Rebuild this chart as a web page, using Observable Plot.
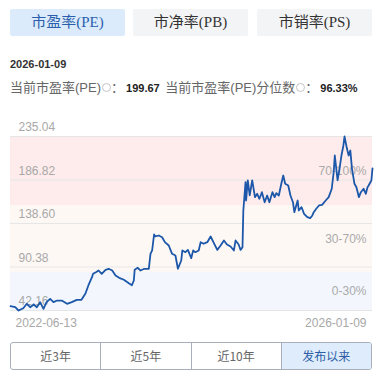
<!DOCTYPE html>
<html>
<head>
<meta charset="utf-8">
<script src="https://cdn.jsdelivr.net/npm/d3@7"></script>
<script src="https://cdn.jsdelivr.net/npm/@observablehq/plot@0.6"></script>
<style>
  html, body { margin: 0; padding: 0; background: #fff; width: 383px; height: 389px; overflow: hidden; }
  body { position: relative; font-family: "Liberation Sans", Arial, "Noto Sans CJK SC", sans-serif; }
  .tab { position: absolute; top: 9px; width: 115px; height: 27px; line-height: 27px; text-align: center;
         font-family: "Liberation Serif", "Noto Sans CJK SC", serif; font-size: 15px; border-radius: 2px; }
  .t1 { left: 10px; background: #dcebfb; color: #2b5fae; }
  .t2 { left: 133px; background: #f3f4f6; color: #333; }
  .t3 { left: 257px; background: #f3f4f6; color: #333; }
  #date { position: absolute; left: 10px; top: 57px; font-size: 11px; font-weight: bold; color: #333; line-height: 14px; }
  #info { position: absolute; left: 10px; top: 79px; font-size: 13px; color: #666; line-height: 18px; white-space: nowrap;
          font-family: "Liberation Sans", Arial, "Noto Sans CJK SC", sans-serif; }
  #info b { color: #222; font-weight: bold; font-size: 11px; margin: 0 2px 0 2px; }
  .ic { display: inline-block; width: 9px; height: 9px; border: 1px solid #c4c4c4; border-radius: 50%; box-sizing: border-box;
        vertical-align: 0px; margin-left: 1px; }
  #chart { position: absolute; left: 0; top: 115px; }
  #btns { position: absolute; left: 10px; top: 342px; width: 362px; height: 28px; border: 1px solid #a9afba; border-radius: 3px;
          box-sizing: border-box; display: flex; overflow: hidden; }
  #btns div { flex: 1; text-align: center; line-height: 26px; font-size: 12px; color: #666; border-left: 1px solid #a9afba;
              font-family: "Noto Sans CJK SC", sans-serif; }
  #btns div:first-child { border-left: none; }
  #btns div.on { background: #deecfc; color: #2d5ea6; }
</style>
</head>
<body>
<div class="tab t1">市盈率(PE)</div>
<div class="tab t2">市净率(PB)</div>
<div class="tab t3">市销率(PS)</div>
<div id="date">2026-01-09</div>
<div id="info">当前市盈率(PE)<span class="ic"></span>：<b>199.67</b>&nbsp;当前市盈率(PE)分位数<span class="ic"></span>：<b>96.33%</b></div>
<div id="chart"></div>
<div id="btns"><div>近3年</div><div>近5年</div><div>近10年</div><div class="on">发布以来</div></div>
<script>
const dates = [
"2022-06-13","2022-06-30","2022-07-12","2022-07-29","2022-08-11","2022-08-23","2022-09-05","2022-09-16","2022-09-28","2022-10-10",
"2022-10-21","2022-11-03","2022-11-15","2022-11-28","2022-12-15","2023-01-03","2023-01-20","2023-02-07","2023-02-24","2023-03-10",
"2023-03-21","2023-04-03","2023-04-07","2023-04-17","2023-04-27","2023-05-08","2023-05-22","2023-06-02","2023-06-15","2023-06-27",
"2023-07-10","2023-07-27","2023-08-14","2023-08-25","2023-09-01","2023-09-04","2023-09-15","2023-09-25","2023-10-09","2023-10-25",
"2023-10-31","2023-11-06","2023-11-13","2023-11-17","2023-11-30","2023-12-12","2023-12-22","2024-01-05","2024-01-17","2024-01-29",
"2024-02-07","2024-02-19","2024-02-23","2024-03-05","2024-03-14","2024-03-26","2024-04-02","2024-04-10","2024-04-22","2024-04-29",
"2024-05-10","2024-05-23","2024-06-04","2024-06-14","2024-06-28","2024-07-10","2024-07-22","2024-08-02","2024-08-15","2024-08-27",
"2024-09-02","2024-09-13","2024-09-20","2024-09-27","2024-09-30","2024-10-08","2024-10-10","2024-10-16","2024-10-23","2024-11-01",
"2024-11-11","2024-11-19","2024-11-27","2024-12-06","2024-12-16","2024-12-25","2025-01-02","2025-01-13","2025-01-21","2025-01-27",
"2025-02-05","2025-02-14","2025-02-21","2025-02-28","2025-03-11","2025-03-19","2025-03-28","2025-04-02","2025-04-07","2025-04-14",
"2025-04-18","2025-04-28","2025-05-07","2025-05-19","2025-05-29","2025-06-06","2025-06-11","2025-06-20","2025-06-30","2025-07-11",
"2025-07-24","2025-08-04","2025-08-15","2025-08-22","2025-08-26","2025-09-01","2025-09-05","2025-09-12","2025-09-19","2025-09-26",
"2025-09-30","2025-10-09","2025-10-15","2025-10-21","2025-10-27","2025-11-05","2025-11-12","2025-11-21","2025-11-28","2025-12-08",
"2025-12-16","2025-12-22","2025-12-26","2026-01-05","2026-01-09"
];
const peValues = [
46.9,45.8,42.16,44.7,49.6,45.8,48.8,45.8,51.4,44.0,
51.4,55.1,51.4,53.2,53.2,49.6,51.4,54.0,54.0,60.7,
69.9,79.1,82.8,84.6,86.5,82.8,87.3,88.4,86.5,81.0,
78.4,76.2,72.4,70.2,75.4,87.3,89.5,86.5,88.4,88.4,
105.0,108.7,126.4,124.2,125.3,123.4,117.9,114.2,105.0,103.1,
88.4,97.6,108.7,106.8,109.4,100.1,108.7,106.8,108.7,117.9,
116.1,117.9,124.2,117.9,109.4,114.2,119.8,115.3,113.1,108.7,
119.8,115.3,109.4,112.3,153.0,184.4,164.1,186.3,169.7,186.3,
167.8,171.5,166.0,173.3,162.2,169.6,162.2,173.3,167.8,172.2,
169.6,182.6,191.8,182.6,180.7,169.6,162.2,151.1,156.7,164.1,
153.0,156.7,149.4,145.6,144.5,147.5,151.1,154.9,158.6,159.3,
164.1,167.8,177.1,195.5,214.0,197.4,186.3,199.2,214.0,225.1,
235.04,221.4,214.0,219.5,199.2,182.6,178.8,167.8,173.3,177.1,
171.5,178.8,180.7,186.3,199.67
];
const yTicks = [42.16, 90.38, 138.60, 186.82, 235.04];
const xTickLabels = ["2022-06-13", "2026-01-09"];
const bandLabels = ["70-100%", "30-70%", "0-30%"];
const bandLow = [158.5, 84.3, 42.16];
const bandHigh = [235.04, 158.5, 84.3];
const bandColors = ["#fdeceb", "#fef8f5", "#f3f7fd"];

const parse = d3.utcParse("%Y-%m-%d");
const fmt = d3.utcFormat("%Y-%m-%d");
const data = dates.map((d, i) => ({date: parse(d), pe: peValues[i]}));
const bands = bandLabels.map((l, i) => ({label: l, lo: bandLow[i], hi: bandHigh[i], fill: bandColors[i]}));
const xStart = parse(xTickLabels[0]), xEnd = parse(xTickLabels[1]);

const chart = Plot.plot({
  width: 383, height: 217,
  marginTop: 21, marginBottom: 22, marginLeft: 10, marginRight: 11,
  style: {fontFamily: "Liberation Sans, Arial, sans-serif", fontSize: "12px", background: "transparent"},
  x: {type: "utc", domain: [xStart, xEnd]},
  y: {domain: [yTicks[0], yTicks[yTicks.length - 1]]},
  marks: [
    ...bands.map(b => Plot.rect([b], {y1: "lo", y2: "hi", fill: b.fill})),
    Plot.ruleY(yTicks, {stroke: "#e6e6e6"}),
    Plot.text(bands, {y: d => (d.lo + d.hi) / 2, text: "label", frameAnchor: "right", textAnchor: "end", dx: -6, fill: "#aaa", fontSize: 12}),
    Plot.axisY({ticks: yTicks, tickSize: 0, tickPadding: 0, textAnchor: "start", dx: 8, dy: -9, tickFormat: d => d.toFixed(2), color: "#a8a8a8", label: null}),
    Plot.axisX({ticks: [xStart], tickSize: 0, tickPadding: 8, textAnchor: "start", dx: 5, tickFormat: fmt, color: "#a8a8a8", label: null}),
    Plot.axisX({ticks: [xEnd], tickSize: 0, tickPadding: 8, textAnchor: "end", dx: -6, tickFormat: fmt, color: "#a8a8a8", label: null}),
    Plot.lineY(data, {x: "date", y: "pe", stroke: "#1c57aa", strokeWidth: 1.8})
  ]
});
document.getElementById("chart").appendChild(chart);
</script>
</body>
</html>
